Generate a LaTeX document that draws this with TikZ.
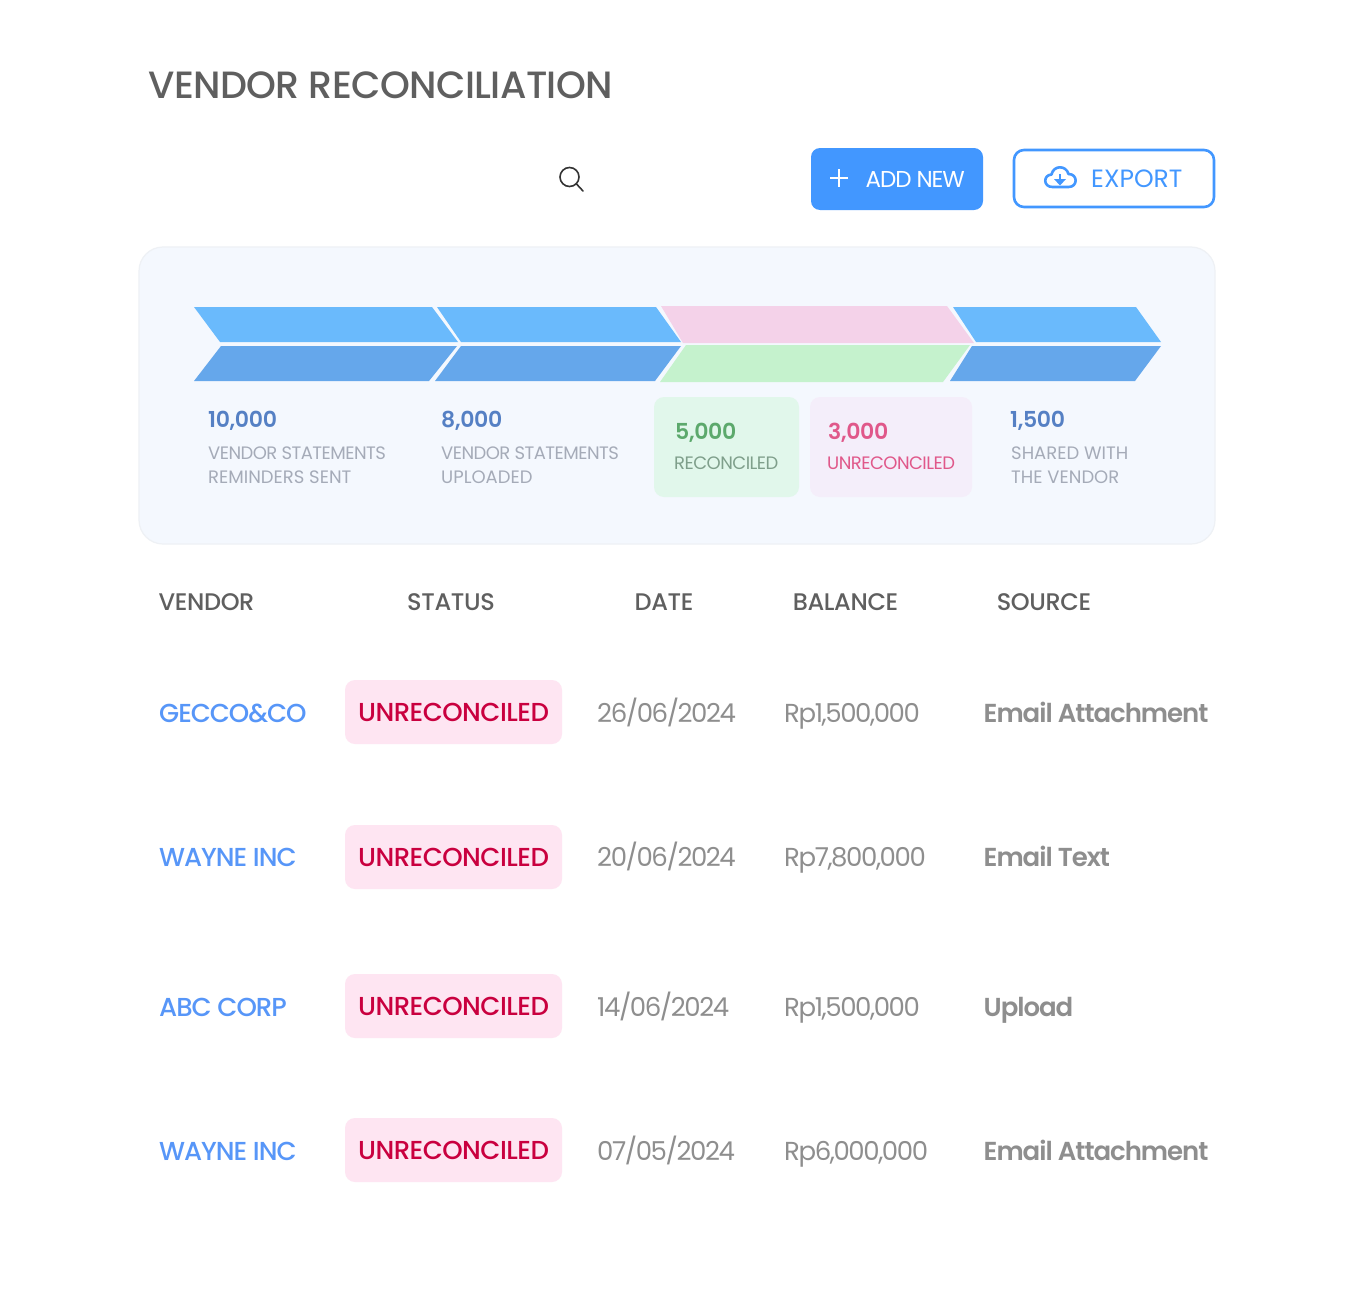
\documentclass[tikz,border=0pt]{standalone}
\usepackage{fontspec}
\setmainfont{Poppins}
\newfontfamily\popmedium{Poppins Medium}
\newfontfamily\popsemi{Poppins SemiBold}
\newcommand{\tight}[1]{\addfontfeature{LetterSpace=#1}}
\definecolor{panelfill}{HTML}{F4F8FE}
\definecolor{paneledge}{HTML}{EEF1F5}
\definecolor{topblue}{HTML}{6ABAFC}
\definecolor{lowblue}{HTML}{65A7EB}
\definecolor{toppink}{HTML}{F4D2E9}
\definecolor{lowgreen}{HTML}{C5F2CD}
\definecolor{greenbox}{HTML}{E1F7EB}
\definecolor{pinkbox}{HTML}{F4EEFA}
\definecolor{btnblue}{HTML}{4297FF}
\definecolor{titlegray}{HTML}{5F5F5F}
\definecolor{labelgray}{HTML}{A5ABB8}
\definecolor{countblue}{HTML}{5580C4}
\definecolor{reccount}{HTML}{5CA96C}
\definecolor{rectext}{HTML}{7F9F8B}
\definecolor{unrectext}{HTML}{E0588A}
\definecolor{linkblue}{HTML}{5796F8}
\definecolor{cellgray}{HTML}{8E8E8E}
\definecolor{badgefill}{HTML}{FEE5F2}
\definecolor{badgetext}{HTML}{C9003F}
\tikzset{
	count/.style={anchor=base west, inner sep=0pt, font=\popsemi\fontsize{22}{26}\selectfont\tight{-1.5}},
	caption/.style={anchor=base west, inner sep=0pt, text=labelgray, font=\fontsize{18}{24}\selectfont},
	tightcaption/.style={caption, font=\fontsize{18}{24}\selectfont\tight{-3}},
	head/.style={anchor=base, inner sep=0pt, text=titlegray, font=\popmedium\fontsize{24}{28}\selectfont\tight{-1.5}},
	cell/.style={anchor=base west, inner sep=0pt, text=cellgray, font=\fontsize{26}{30}\selectfont\tight{-5.5}},
	namecell/.style={cell, text=linkblue, font=\popmedium\fontsize{26}{30}\selectfont\tight{-4}},
	sourcecell/.style={cell, font=\popsemi\fontsize{26}{30}\selectfont\tight{-4}},
	badge/.style={fill=badgefill, rounded corners=10pt, minimum width=217pt, minimum height=64pt, inner sep=0pt, text=badgetext, font=\popmedium\fontsize{26}{30}\selectfont\tight{-2}},
}
\begin{document}
\begin{tikzpicture}[x=1pt, y=-1pt]
	\useasboundingbox (0, 0) rectangle (1356, 1295);
	\fill[white] (0, 0) rectangle (1356, 1295);

	\node[anchor=base west, inner sep=0pt, text=titlegray, font=\popmedium\fontsize{38}{44}\selectfont\tight{-1.6}] (title) at (148, 99) {VENDOR RECONCILIATION};

	\draw[black!80, line width=1.6pt] (569.5, 177) circle (9.5);
	\draw[black!80, line width=1.6pt, line cap=round] (576.5, 184) to (583, 191);

	\fill[btnblue, rounded corners=9pt] (811, 148) rectangle (983, 210);
	\draw[white, line width=2.2pt] (830, 178) to (848, 178);
	\draw[white, line width=2.2pt] (839, 169) to (839, 187);
	\node[anchor=base west, inner sep=0pt, text=white, font=\fontsize{23}{28}\selectfont\tight{-4.8}] (addnew) at (865.5, 187) {ADD NEW};

	\draw[btnblue, line width=2.6pt, rounded corners=10pt] (1014, 150) rectangle (1214, 207);
	\draw[btnblue, line width=2.6pt, line join=round] (1052.5, 187) .. controls (1043, 187) and (1043, 175) .. (1051.5, 174.5) .. controls (1053.5, 165) and (1066, 165) .. (1068.5, 174) .. controls (1078, 174) and (1078, 187) .. (1068.5, 187) -- cycle;
	\draw[btnblue, line width=2.6pt] (1060, 174) to (1060, 181);
	\fill[btnblue] (1054, 179) -- (1066, 179) -- (1060, 185.5) -- cycle;
	\node[anchor=base west, inner sep=0pt, text=btnblue, font=\fontsize{25}{30}\selectfont] (export) at (1091, 187) {EXPORT};

	\draw[paneledge, fill=panelfill, line width=1.2pt, rounded corners=24pt] (139, 247) rectangle (1215, 544);

	\fill[topblue]	(194, 307) -- (432, 307) -- (458, 342) -- (220, 342) -- cycle
					(437, 307) -- (656, 307) -- (681, 342) -- (461, 342) -- cycle
					(953, 307) -- (1136, 307) -- (1161, 342) -- (976, 342) -- cycle;
	\fill[lowblue]	(194, 381) -- (429, 381) -- (457, 346) -- (221, 346) -- cycle
					(435, 381) -- (655, 381) -- (681, 346) -- (461, 346) -- cycle
					(950, 381) -- (1135, 381) -- (1161, 346) -- (972, 346) -- cycle;
	\fill[toppink]	(661, 306) -- (947, 306) -- (974, 343) -- (683, 343) -- cycle;
	\fill[lowgreen]	(660, 382) -- (943, 382) -- (970, 345) -- (686, 345) -- cycle;

	\fill[greenbox, rounded corners=10pt] (654, 397) rectangle (799, 497);
	\fill[pinkbox, rounded corners=10pt] (810, 397) rectangle (972, 497);

	\node[count, text=countblue] (sentcount) at (208, 427) {10,000};
	\node[tightcaption] (sentone) at (208, 459) {VENDOR STATEMENTS};
	\node[caption] (senttwo) at (208, 483) {REMINDERS SENT};

	\node[count, text=countblue] (upcount) at (441, 427) {8,000};
	\node[tightcaption] (upone) at (441, 459) {VENDOR STATEMENTS};
	\node[caption] (uptwo) at (441, 483) {UPLOADED};

	\node[count, text=reccount] (reccount) at (675, 439) {5,000};
	\node[tightcaption, text=rectext] (rectext) at (674, 469) {RECONCILED};

	\node[count, text=unrectext] (unreccount) at (828, 439) {3,000};
	\node[tightcaption, text=unrectext] (unrectext) at (827, 469) {UNRECONCILED};

	\node[count, text=countblue] (sharedcount) at (1010, 427) {1,500};
	\node[caption] (sharedone) at (1011, 459) {SHARED WITH};
	\node[caption] (sharedtwo) at (1011, 483) {THE VENDOR};

	\node[head] (vendorhead) at (206.5, 610) {VENDOR};
	\node[head] (statushead) at (451, 610) {STATUS};
	\node[head] (datehead) at (664, 610) {DATE};
	\node[head] (balancehead) at (845.5, 610) {BALANCE};
	\node[head] (sourcehead) at (1044, 610) {SOURCE};

	\foreach \rownum/\rowy/\texty/\vendorname/\rowdate/\rowbalance/\rowsource in {
		1/712/722/{GECCO\&CO}/{26/06/2024}/{Rp1,500,000}/{Email Attachment},
		2/857/866.5/{WAYNE INC}/{20/06/2024}/{Rp7,800,000}/{Email Text},
		3/1006/1016/{ABC CORP}/{14/06/2024}/{Rp1,500,000}/{Upload},
		4/1150/1160/{WAYNE INC}/{07/05/2024}/{Rp6,000,000}/{Email Attachment}} {
		\node[namecell] (vendor\rownum) at (159, \texty) {\vendorname};
		\node[badge] (status\rownum) at (453.5, \rowy) {UNRECONCILED};
		\node[cell] (date\rownum) at (597, \texty) {\rowdate};
		\node[cell] (balance\rownum) at (784, \texty) {\rowbalance};
		\node[sourcecell] (source\rownum) at (983.5, \texty) {\rowsource};
	}
\end{tikzpicture}
\end{document}
